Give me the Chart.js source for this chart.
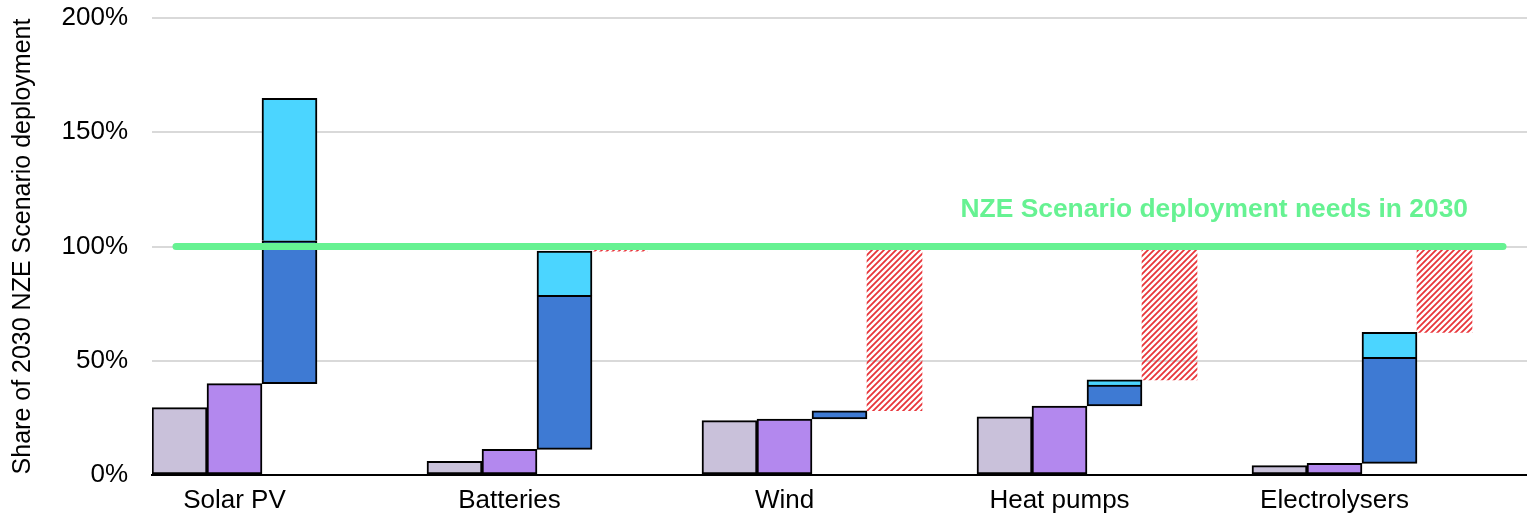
<!DOCTYPE html>
<html>
<head>
<meta charset="utf-8">
<script src="https://cdn.jsdelivr.net/npm/chart.js@4.4.1/dist/chart.umd.min.js"></script>
<style>
  html, body { margin: 0; padding: 0; background: #fff; }
  #wrap { width: 1527px; height: 513px; }
</style>
</head>
<body>
<div id="wrap"><canvas id="chart"></canvas></div>
<script>
  // values, % of 2030 NZE deployment
  const CATEGORIES = ['Solar PV', 'Batteries', 'Wind', 'Heat pumps', 'Electrolysers'];
  const FIRST = [29.5, 6, 23.8, 25.5, 4.1];
  const SECOND = [40, 11.2, 24.5, 30.2, 5.1];
  const PIPELINE_TOP = [102.5, 78.6, 28.1, 39.4, 51.5];
  const UPPER_TOP = [164.8, 98, null, 41.6, 62.4];
  const TARGET = 100;
  const Y_TICKS = [0, 50, 100, 150, 200];
  const TARGET_LABEL = 'NZE Scenario deployment needs in 2030';

  const COLORS = {
    first: '#C9C1DA',
    second: '#B388EE',
    pipeline: '#3E7AD3',
    upper: '#4BD5FF',
    hatch: '#E8353A',
    target: '#66F292',
    grid: '#D9D9D9',
    text: '#000000'
  };
  const FONT = "'Liberation Sans', Arial, sans-serif";

  function hatchPattern(ctx) {
    const s = 6;
    const c = document.createElement('canvas');
    c.width = s; c.height = s;
    const g = c.getContext('2d');
    g.strokeStyle = COLORS.hatch;
    g.lineWidth = 1.8;
    g.beginPath();
    g.moveTo(0, s); g.lineTo(s, 0);
    g.moveTo(-1, 1); g.lineTo(1, -1);
    g.moveTo(s - 1, s + 1); g.lineTo(s + 1, s - 1);
    g.stroke();
    return ctx.createPattern(c, 'repeat');
  }

  const upperBars = CATEGORIES.map((_, i) => UPPER_TOP[i] == null ? null : [PIPELINE_TOP[i], UPPER_TOP[i]]);
  const pipelineBars = CATEGORIES.map((_, i) => [SECOND[i], PIPELINE_TOP[i]]);
  const gapBars = CATEGORIES.map((_, i) => {
    const top = Math.max(PIPELINE_TOP[i], UPPER_TOP[i] ?? 0);
    return top < TARGET ? [top, TARGET] : null;
  });

  const targetLine = {
    id: 'targetLine',
    afterDatasetsDraw(chart) {
      const { ctx, chartArea, scales } = chart;
      const y = scales.y.getPixelForValue(TARGET);
      ctx.save();
      ctx.strokeStyle = COLORS.target;
      ctx.lineWidth = 7;
      ctx.lineCap = 'round';
      ctx.beginPath();
      ctx.moveTo(chartArea.left + 24, y);
      ctx.lineTo(chartArea.right - 24, y);
      ctx.stroke();
      ctx.fillStyle = COLORS.target;
      ctx.font = 'bold 26.4px ' + FONT;
      ctx.textAlign = 'right';
      ctx.textBaseline = 'middle';
      ctx.fillText(TARGET_LABEL, chartArea.right - 59, y - 37);
      ctx.restore();
    }
  };

  const canvas = document.getElementById('chart');
  const ctx = canvas.getContext('2d');
  const common = { borderColor: '#000', borderWidth: 2, borderSkipped: false, categoryPercentage: 1, barPercentage: 1 };

  new Chart(ctx, {
    type: 'bar',
    data: {
      labels: CATEGORIES,
      datasets: [
        { ...common, label: 'first', data: FIRST, backgroundColor: COLORS.first, stack: 's1' },
        { ...common, label: 'second', data: SECOND, backgroundColor: COLORS.second, stack: 's2' },
        { ...common, label: 'pipeline', data: pipelineBars, backgroundColor: COLORS.pipeline, stack: 's3' },
        { ...common, label: 'upper', data: upperBars, backgroundColor: COLORS.upper, stack: 's3',
          borderWidth: { top: 2, left: 2, right: 2, bottom: 0 } },
        { ...common, label: 'gap', data: gapBars, backgroundColor: hatchPattern(ctx), borderWidth: 0, stack: 's4' },
        { ...common, label: 'spacer', data: CATEGORIES.map(() => null), stack: 's5' }
      ]
    },
    options: {
      responsive: true,
      maintainAspectRatio: false,
      animation: false,
      layout: { padding: { top: 18, right: 0, bottom: 0, left: 0 } },
      plugins: { legend: { display: false }, tooltip: { enabled: false } },
      scales: {
        x: {
          grid: { display: false },
          border: { display: true, color: '#000', width: 2 },
          ticks: { color: COLORS.text, font: { family: FONT, size: 26 }, labelOffset: -55, padding: 2, maxRotation: 0 },
          afterFit(scale) { scale.height = 38; }
        },
        y: {
          stacked: false,
          min: 0, max: 200,
          afterBuildTicks(scale) { scale.ticks = Y_TICKS.map(v => ({ value: v })); },
          grid: {
            color: c => c.tick && c.tick.value === 0 ? 'rgba(0,0,0,0)' : COLORS.grid,
            lineWidth: 2,
            drawTicks: true,
            tickLength: 24,
            tickColor: 'rgba(0,0,0,0)'
          },
          border: { display: false },
          ticks: { color: COLORS.text, font: { family: FONT, size: 26 }, padding: 0, callback: v => v + '%' },
          title: { display: true, text: 'Share of 2030 NZE Scenario deployment', color: COLORS.text,
                   font: { family: FONT, size: 25 }, padding: { top: 8, bottom: 0 } },
          afterFit(scale) { scale.width = 152; }
        }
      }
    },
    plugins: [targetLine]
  });
</script>
</body>
</html>
